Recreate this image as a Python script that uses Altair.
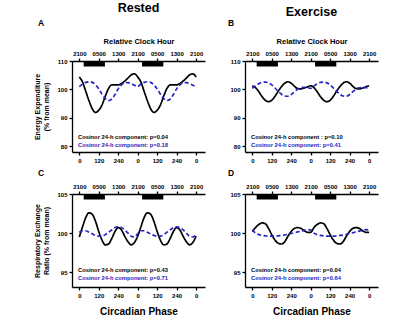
import altair as alt
import pandas as pd

# ---------------- data ----------------
phase_cycle = [0, 20, 40, 60, 80, 100, 120, 140, 160, 180, 200, 220, 240, 260, 280, 300, 320, 340, 360]

A_black = [104.4, 102.6, 99.3, 96.0, 93.2, 91.9, 92.7, 94.5, 97.6, 100.3, 101.6, 101.6, 101.6, 102.1, 102.9, 104.0, 105.1, 105.5, 104.4]
A_blue = [101.0, 101.9, 102.5, 102.7, 102.5, 101.6, 100.2, 98.3, 96.8, 96.1, 96.6, 98.2, 100.2, 101.6, 102.3, 102.4, 102.0, 101.5, 101.0]
B_black = [101.3, 100.6, 99.2, 97.5, 96.2, 95.7, 96.2, 97.6, 99.4, 101.0, 102.2, 102.7, 102.2, 101.1, 100.3, 100.2, 100.5, 100.9, 101.3]
B_blue = [100.4, 101.2, 102.0, 102.5, 102.6, 102.3, 101.6, 100.5, 99.3, 98.3, 97.7, 97.6, 98.2, 99.2, 100.1, 100.6, 100.7, 100.6, 100.4]
C_black = [99.5, 100.8, 102.0, 102.6, 102.4, 101.5, 100.2, 99.1, 98.5, 98.6, 99.3, 100.2, 100.7, 100.4, 99.6, 98.9, 98.5, 98.8, 99.6]
C_blue = [100.1, 100.3, 100.3, 100.1, 99.9, 99.7, 99.6, 99.6, 99.8, 100.1, 100.4, 100.7, 100.8, 100.7, 100.4, 100.0, 99.6, 99.5, 99.9]
D_black = [100.2, 100.7, 101.1, 101.3, 101.2, 100.6, 99.8, 99.1, 98.7, 98.6, 98.9, 99.6, 100.2, 100.6, 100.7, 100.6, 100.3, 100.1, 100.1]
D_blue = [100.4, 100.0, 99.8, 99.7, 99.65, 99.6, 99.6, 99.6, 99.65, 99.7, 99.75, 99.85, 99.95, 100.05, 100.15, 100.25, 100.35, 100.45, 100.4]

sleep_start = [27, 387]
sleep_end = [158, 518]

phase_ticks = [0, 120, 240, 360, 480, 600, 720]
phase_labels = ["0", "120", "240", "0", "120", "240", "0"]
clock_labels = ["2100", "0500", "1300", "2100", "0500", "1300", "2100"]

headings = ["Rested", "Exercise"]
letters = ["A", "B", "C", "D"]
y_titles = [["Energy Expenditure", "(% from mean)"], ["Respiratory Exchange", "Ratio (% from mean)"]]
black_notes = ["Cosinor 24-h component: p=0.04", "Cosinor 24-h component : p=0.10",
               "Cosinor 24-h component: p=0.43", "Cosinor 24-h component: p=0.04"]
blue_notes = ["Cosinor 24-h component: p=0.18", "Cosinor 24-h component: p=0.41",
              "Cosinor 24-h component: p=0.71", "Cosinor 24-h component: p=0.64"]

FONT = "Liberation Sans"
BLUE = "#2424c4"
XDOM = [-45, 775]
W = 133


def js_list(items):
    return "[" + ",".join("'" + s + "'" for s in items) + "]"


def panel(idx, black, blue, ydom, yticks, ytitle, heading, top_title, bottom_title, height):
    phases = phase_cycle + [p + 360 for p in phase_cycle[1:]]
    rows = []
    for name, vals in (("Fit black", black), ("Fit blue", blue)):
        full = vals + vals[1:]
        for p, v in zip(phases, full):
            rows.append({"phase": p, "value": v, "series": name})
    df = pd.DataFrame(rows)

    xscale = alt.Scale(domain=XDOM, nice=False, zero=False)
    bkw = dict(values=phase_ticks,
               labelExpr=js_list(phase_labels) + "[round(datum.value/120)]",
               labelOverlap=False)
    if bottom_title:
        bkw.update(title=bottom_title, titleFontSize=10, titleFontWeight="bold", titlePadding=8)
    else:
        bkw.update(title=None)
    bottom_axis = alt.Axis(**bkw)

    ykw = dict(values=yticks)
    if ytitle is not None:
        ykw.update(title=ytitle, titleFontSize=7, titleFontWeight="bold", titlePadding=7, titleLineHeight=9)
    else:
        ykw.update(title=None)

    lines = alt.Chart(df).mark_line(strokeWidth=1.7, interpolate="monotone").encode(
        x=alt.X("phase:Q", scale=xscale, axis=bottom_axis),
        y=alt.Y("value:Q", scale=alt.Scale(domain=ydom, nice=False, zero=False), axis=alt.Axis(**ykw)),
        color=alt.Color("series:N", scale=alt.Scale(domain=["Fit black", "Fit blue"], range=["#000000", BLUE]), legend=None),
        strokeDash=alt.StrokeDash("series:N", scale=alt.Scale(domain=["Fit black", "Fit blue"], range=[[1, 0], [4, 2.5]]), legend=None),
        order=alt.Order("phase:Q"),
    )

    sleep_df = pd.DataFrame({"start": sleep_start, "end": sleep_end})
    tkw = dict(orient="top", values=phase_ticks,
               labelExpr=js_list(clock_labels) + "[round(datum.value/120)]",
               labelOverlap=False)
    if top_title:
        tkw.update(title=top_title, titleFontSize=7.5, titleFontWeight="bold", titlePadding=5)
    else:
        tkw.update(title=None)
    bars = alt.Chart(sleep_df).mark_rect(color="black").encode(
        x=alt.X("start:Q", scale=xscale, axis=alt.Axis(**tkw)),
        x2="end:Q",
        y=alt.value(0.5),
        y2=alt.value(5.5),
    )

    tb = alt.Chart(pd.DataFrame({"t": [black_notes[idx]]})).mark_text(
        align="left", baseline="middle", font=FONT, fontSize=5.8, fontWeight="bold", color="black"
    ).encode(x=alt.value(6), y=alt.value(76), text="t:N")
    tl = alt.Chart(pd.DataFrame({"t": [blue_notes[idx]]})).mark_text(
        align="left", baseline="middle", font=FONT, fontSize=5.8, fontWeight="bold", color=BLUE
    ).encode(x=alt.value(6), y=alt.value(84), text="t:N")

    layers = [lines, bars, tb, tl]
    lx = -31 if idx % 2 == 0 else -14
    ly = -38 if idx < 2 else -21
    lt = alt.Chart(pd.DataFrame({"t": [letters[idx]]})).mark_text(
        align="center", baseline="middle", font=FONT, fontSize=8.5, fontWeight="bold"
    ).encode(x=alt.value(lx), y=alt.value(ly), text="t:N")
    layers.append(lt)
    if heading:
        hy = -53 if idx == 0 else -49
        ht = alt.Chart(pd.DataFrame({"t": [heading]})).mark_text(
            align="center", baseline="middle", font=FONT, fontSize=12.5, fontWeight="bold"
        ).encode(x=alt.value(W / 2), y=alt.value(hy), text="t:N")
        layers.append(ht)

    return alt.layer(*layers).resolve_scale(x="independent").properties(width=W, height=height)


A = panel(0, A_black, A_blue, [78, 110], [80, 90, 100, 110], y_titles[0], headings[0], "Relative Clock Hour", None, 91)
B = panel(1, B_black, B_blue, [78, 110], [80, 90, 100, 110], None, headings[1], "Relative Clock Hour", None, 91)
C = panel(2, C_black, C_blue, [93.1, 105], [95, 100, 105], y_titles[1], None, None, "Circadian Phase", 93)
D = panel(3, D_black, D_blue, [93.1, 105], [95, 100, 105], None, None, None, "Circadian Phase", 93)

chart = alt.vconcat(
    alt.hconcat(A, B, spacing=22),
    alt.hconcat(C, D, spacing=22),
    spacing=6,
).properties(
    padding={"left": 33, "top": 2, "right": 5, "bottom": 5},
    background="white",
).configure_view(stroke=None).configure_axis(
    domainColor="black", domainWidth=1.3, tickColor="black", tickWidth=1.3, tickSize=3,
    labelFont=FONT, labelFontSize=6, labelFontWeight="bold", labelColor="black", labelPadding=2,
    titleFont=FONT, titleColor="black", grid=False,
)

chart.save("out.html", embed_options={"renderer": "svg", "actions": False})
